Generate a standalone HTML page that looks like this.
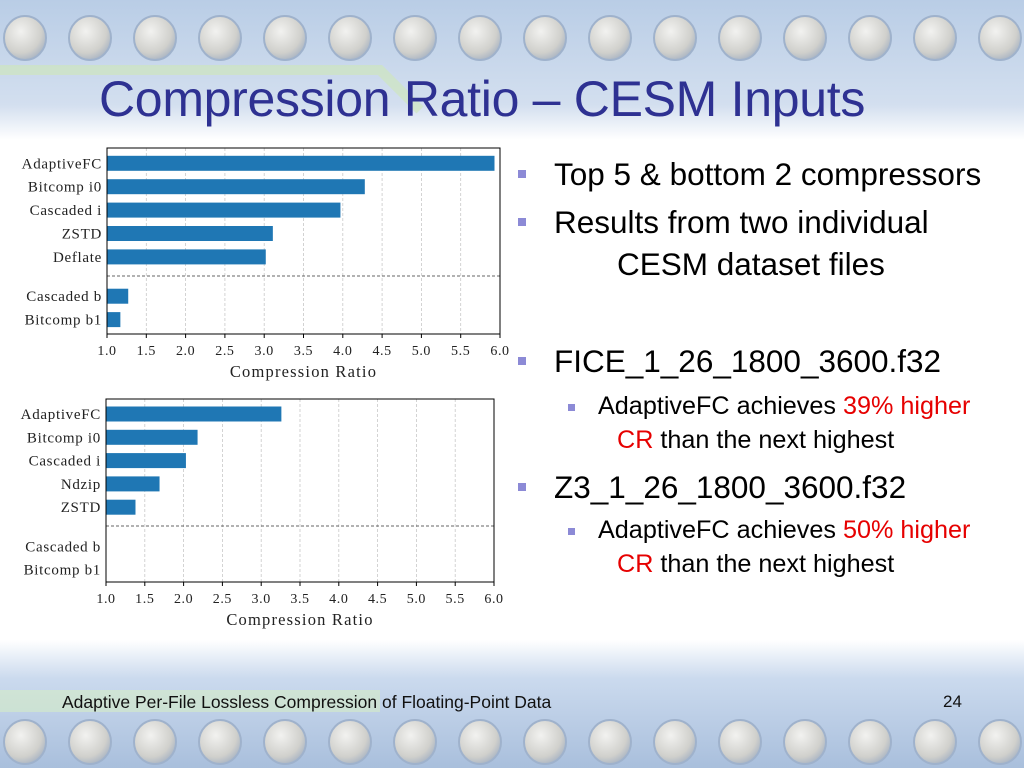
<!DOCTYPE html>
<html><head><meta charset="utf-8">
<style>
html,body{margin:0;padding:0;}
body{width:1024px;height:768px;position:relative;overflow:hidden;background:#fff;font-family:"Liberation Sans",sans-serif;}
.band{position:absolute;left:0;width:1024px;}
.title{position:absolute;left:99px;top:70px;font-size:50px;color:#2e3192;letter-spacing:-0.3px;white-space:nowrap;}
.txt{position:absolute;white-space:nowrap;color:#000;}
.bul{position:absolute;background:#8c8ad6;}
.red{color:#e60000;}
</style></head><body>
<svg class="band" style="top:0;height:140px" width="1024" height="140">
<defs>
<linearGradient id="tg" x1="0" y1="0" x2="0" y2="1"><stop offset="0" stop-color="#b9cde6"/><stop offset="0.75" stop-color="#d3dfef"/><stop offset="1" stop-color="#ffffff"/></linearGradient>
<radialGradient id="cg" cx="0.4" cy="0.35" r="0.7"><stop offset="0" stop-color="#f2f2f0"/><stop offset="0.7" stop-color="#d0d0cc"/><stop offset="1" stop-color="#a6b2c2"/></radialGradient>
</defs>
<rect width="1024" height="140" fill="url(#tg)"/>
<path d="M0 70 L380 70 L420 110" stroke="#cfe7b8" stroke-width="10" fill="none" opacity="0.6"/>
<g id="tc"></g>
</svg>
<svg class="band" style="top:640px;height:128px" width="1024" height="128">
<defs>
<linearGradient id="bg" x1="0" y1="0" x2="0" y2="1"><stop offset="0" stop-color="#ffffff"/><stop offset="0.3" stop-color="#cbdaee"/><stop offset="1" stop-color="#a9bfdc"/></linearGradient>
</defs>
<rect width="1024" height="128" fill="url(#bg)"/>
<rect x="0" y="50" width="380" height="22" fill="#d6ecc6" opacity="0.6"/>
<g id="bc"></g>
</svg>
<div class="title">Compression Ratio – CESM Inputs</div>

<svg id="chart1" style="position:absolute;left:0;top:140px" width="520" height="250"></svg>
<svg id="chart2" style="position:absolute;left:0;top:390px" width="520" height="250"></svg>

<div class="bul" style="left:518px;top:170px;width:8px;height:8px"></div>
<div class="txt" style="left:554px;top:156px;font-size:31.5px">Top 5 &amp; bottom 2 compressors</div>
<div class="bul" style="left:518px;top:218px;width:8px;height:8px"></div>
<div class="txt" style="left:554px;top:204px;font-size:31.5px">Results from two individual</div>
<div class="txt" style="left:617px;top:246px;font-size:31.5px">CESM dataset files</div>
<div class="bul" style="left:518px;top:357px;width:8px;height:8px"></div>
<div class="txt" style="left:554px;top:343px;font-size:31.5px">FICE_1_26_1800_3600.f32</div>
<div class="bul" style="left:568px;top:404px;width:7px;height:7px"></div>
<div class="txt" style="left:598px;top:392px;font-size:25.2px">AdaptiveFC achieves <span class="red">39% higher</span></div>
<div class="txt" style="left:617px;top:426px;font-size:25.2px"><span class="red">CR</span> than the next highest</div>
<div class="bul" style="left:518px;top:483px;width:8px;height:8px"></div>
<div class="txt" style="left:554px;top:469px;font-size:31.5px">Z3_1_26_1800_3600.f32</div>
<div class="bul" style="left:568px;top:528px;width:7px;height:7px"></div>
<div class="txt" style="left:598px;top:516px;font-size:25.2px">AdaptiveFC achieves <span class="red">50% higher</span></div>
<div class="txt" style="left:617px;top:550px;font-size:25.2px"><span class="red">CR</span> than the next highest</div>

<div class="txt" style="left:62px;top:692px;font-size:17.5px;color:#111">Adaptive Per-File Lossless Compression of Floating-Point Data</div>
<div class="txt" style="left:943px;top:692px;font-size:17px;color:#111">24</div>

<script>
const categories1 = ["AdaptiveFC","Bitcomp i0","Cascaded i","ZSTD","Deflate","Cascaded b","Bitcomp b1"];
const values1 = [5.93,4.28,3.97,3.11,3.02,1.27,1.17];
const categories2 = ["AdaptiveFC","Bitcomp i0","Cascaded i","Ndzip","ZSTD","Cascaded b","Bitcomp b1"];
const values2 = [3.26,2.18,2.03,1.69,1.38,1.0,1.0];
const tickValues = [1.0,1.5,2.0,2.5,3.0,3.5,4.0,4.5,5.0,5.5,6.0];
const tickLabels = ["1.0","1.5","2.0","2.5","3.0","3.5","4.0","4.5","5.0","5.5","6.0"];
const slots = [0,1,2,3,4,5.68,6.68];
const NS="http://www.w3.org/2000/svg";
function mk(parent,tag,attrs){const e=document.createElementNS(NS,tag);for(const k in attrs)e.setAttribute(k,attrs[k]);parent.appendChild(e);return e;}

[["tc",38],["bc",102]].forEach(([id,cy])=>{
  const g=document.getElementById(id);
  for(let i=0;i<16;i++){
    const c=mk(g,"ellipse",{cx:25+65*i,cy:cy,rx:21,ry:22,fill:"url(#cg)",stroke:"#9fb2cc","stroke-width":2});
    
    
  }
});

function draw(svgId,cats,vals,L,R,T,B,c0,step,dashY){
  const svg=document.getElementById(svgId);
  const x=v=>L+(v-1)*(R-L)/5;
  const y=s=>c0+s*step;
  tickValues.forEach((t,i)=>{
    const gl=mk(svg,"line",{x1:x(t),x2:x(t),y1:T,y2:B,stroke:"#c8c8c8","stroke-dasharray":"3,2","stroke-width":0.8});
    
    
    const tk=mk(svg,"line",{x1:x(t),x2:x(t),y1:B,y2:B+4,stroke:"#000"});
    
    
    const tl=mk(svg,"text",{x:x(t),y:B+21,"text-anchor":"middle","font-family":"Liberation Serif","font-size":14,"letter-spacing":0.6,fill:"#222"});
    tl.textContent=tickLabels[i];
    
    
  });
  const dl=mk(svg,"line",{x1:L,x2:R,y1:dashY,y2:dashY,stroke:"#333","stroke-dasharray":"3,2","stroke-width":0.8});
  
  
  cats.forEach((c,i)=>{
    const w=Math.max(x(vals[i])-L,0.5);
    const b=mk(svg,"rect",{x:L,y:y(slots[i])-7.5,width:w,height:15,fill:"#1f77b4"});
    
    
    const t=mk(svg,"text",{x:L-5,y:y(slots[i])+5,"text-anchor":"end","font-family":"Liberation Serif","font-size":15,"letter-spacing":0.7,fill:"#222"});
    t.textContent=c;
    
    
  });
  const fr=mk(svg,"rect",{x:L,y:T,width:R-L,height:B-T,fill:"none",stroke:"#000","stroke-width":1});
  
  
  const at=mk(svg,"text",{x:(L+R)/2,y:B+43,"text-anchor":"middle","font-family":"Liberation Serif","font-size":16.5,"letter-spacing":1.2,fill:"#222"});
  at.textContent="Compression Ratio";
  
  
}
draw("chart1",categories1,values1,107,500,8,194,23.3,23.4,136);
draw("chart2",categories2,values2,106,494,9,192,24,23.3,136);
</script>
</body></html>
